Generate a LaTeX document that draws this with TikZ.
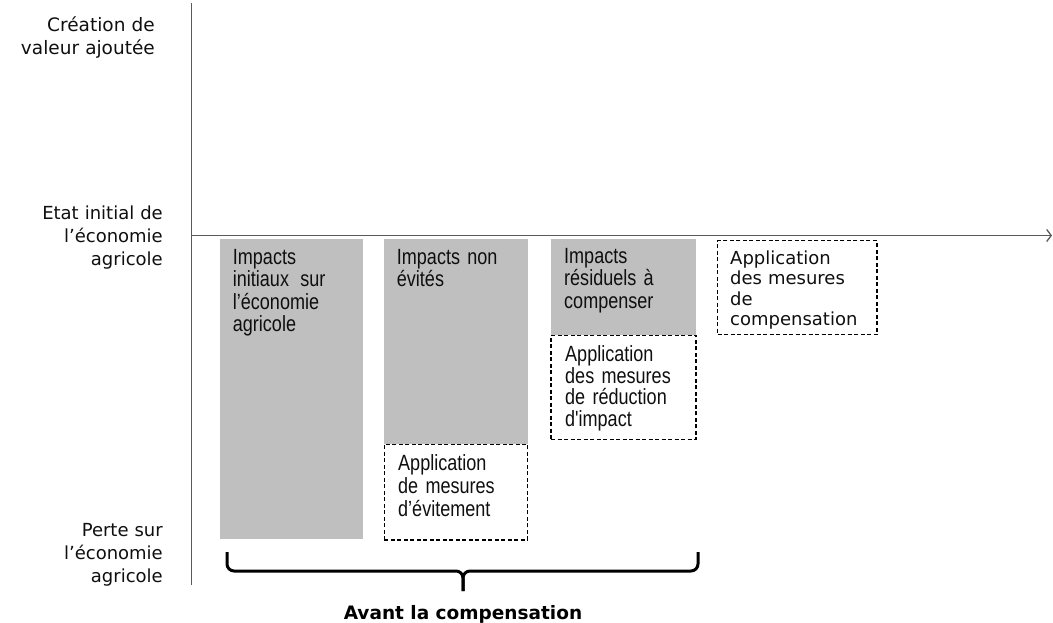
\documentclass[tikz,border=0pt]{standalone}
\usepackage{fontspec}
\newfontfamily\lblfont[WordSpace=1.6]{DejaVu Sans}
\newfontfamily\lblfontw[WordSpace=2.0]{DejaVu Sans}
\newfontfamily\vfont{DejaVu Sans}
\newfontfamily\narrowfont[FakeStretch=0.82]{Liberation Sans}
\usetikzlibrary{arrows.meta}
\definecolor{boxgray}{RGB}{191,191,191}
\definecolor{axisgray}{RGB}{90,90,90}
\definecolor{txt}{RGB}{15,15,15}
\tikzset{
  axisline/.style={draw=axisgray, line width=1.5pt},
  graybox/.style={fill=boxgray, draw=none, inner sep=0pt, outer sep=0pt, anchor=north west},
  dashbox/.style={draw=black, line width=1.1pt, dash pattern=on 4pt off 2.5pt, inner sep=0pt, outer sep=0pt, anchor=north west},
  boxtext/.style={inner sep=0pt, anchor=base west, align=left, text width=160pt, text=txt,
    font=\narrowfont\fontsize{22}{22.5}\selectfont},
  vtext/.style={inner sep=0pt, anchor=base west, align=left, text width=160pt, text=txt,
    font=\vfont\fontsize{18}{20.5}\selectfont},
  sidelabel/.style={inner sep=0pt, anchor=base east, align=right, text width=180pt, text=txt,
    font=\lblfont\fontsize{18}{23}\selectfont},
  bracestyle/.style={line width=3pt, rounded corners=7pt},
}
\begin{document}
\begin{tikzpicture}[x=1pt, y=-1pt]
\useasboundingbox (0,0) rectangle (1053,623);
% axes
\coordinate (ytop) at (191.5,3);
\coordinate (ybot) at (191.5,585);
\coordinate (O) at (191.5,235.5);
\coordinate (xend) at (1052,235.5);
\draw[axisline] (ytop) -- (ybot);
\draw[axisline, -{Straight Barb[length=4.5pt, width=12pt, line width=1.3pt]}] (O) -- (xend);

% side labels
\node[sidelabel, font=\lblfontw\fontsize{18.5}{23}\selectfont] (l1) at (155,32) {Création de\\valeur ajoutée};
\node[sidelabel, font=\vfont\fontsize{18}{23}\selectfont] (l2) at (163,219.5) {Etat initial de\\l’économie\\agricole};
\node[sidelabel] (l3) at (163,536) {Perte sur\\l’économie\\agricole};

% boxes
\node[graybox, minimum width=143.3pt, minimum height=300pt] (g1) at (220,239) {};
\node[graybox, minimum width=143.4pt, minimum height=205pt] (g2) at (384.3,239.3) {};
\node[dashbox, minimum width=143.4pt, minimum height=95.7pt] (d2) at (384.3,444.3) {};
\node[graybox, minimum width=145pt, minimum height=96pt] (g3) at (551,239.3) {};
\node[dashbox, minimum width=145pt, minimum height=104pt] (d3) at (551,335.3) {};
\node[dashbox, minimum width=159.3pt, minimum height=94pt] (d4) at (717.7,240.7) {};

% box texts
\node[boxtext] (t1) at (232.7,264) {Impacts\\initiaux\hspace{4pt} sur\\l’économie\\agricole};
\node[boxtext] (t2) at (396.7,264.3) {Impacts non\\évités};
\node[boxtext, font=\narrowfont\fontsize{22}{23.3}\selectfont] (t2b) at (398,470) {Application\\de mesures\\d’évitement};
\node[boxtext] (t3) at (564,263.3) {Impacts\\résiduels à\\compenser};
\node[boxtext, font=\narrowfont\fontsize{22}{21.7}\selectfont] (t3b) at (565,361.3) {Application\\des mesures\\de réduction\\d'impact};
\node[vtext] (t4) at (730,264) {Application\\des mesures\\de\\compensation};

% brace
\coordinate (bL) at (227,552);
\coordinate (bR) at (698,552);
\coordinate (bM) at (463,591);
\draw[bracestyle] (bL) -- (227,571) -- (463,571) -- (bM);
\draw[bracestyle] (bR) -- (698,571) -- (463,571) -- (bM);
\node[inner sep=0pt, anchor=base, text=black, font=\vfont\bfseries\fontsize{18.5}{22}\selectfont] (cap) at (463,619) {Avant la compensation};
\end{tikzpicture}
\end{document}
